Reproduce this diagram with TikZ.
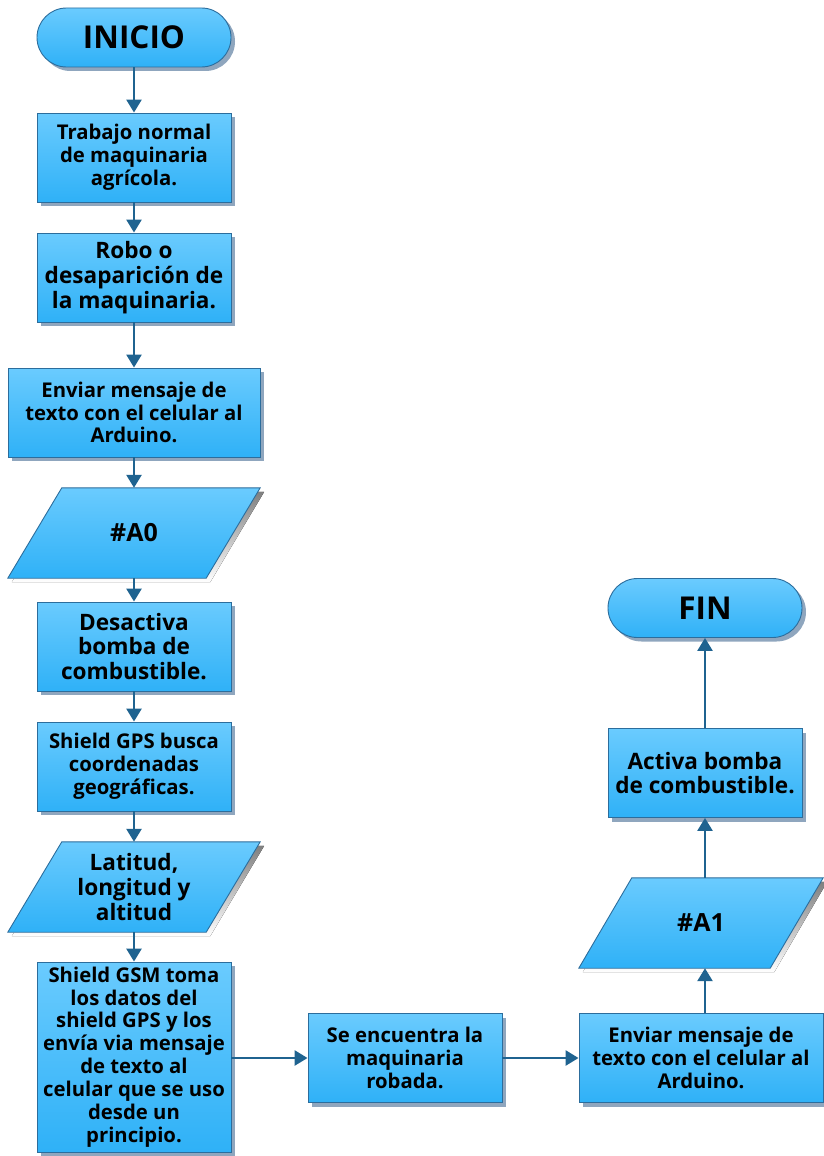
\documentclass[tikz,border=0pt]{standalone}
\usepackage{fontspec}
\setmainfont{Open Sans}
\usetikzlibrary{arrows.meta,shadows,positioning}

\definecolor{fillTop}{HTML}{6ACBFE}
\definecolor{fillBot}{HTML}{2FB1F7}
\definecolor{edge}{HTML}{2C6D9C}
\definecolor{flow}{HTML}{1F6390}
\definecolor{shade}{HTML}{8FA6BE}

\tikzset{
  blockbody/.style={top color=fillTop, bottom color=fillBot, draw=edge, line width=0.9pt},
  blockfill/.style={blockbody,
    drop shadow={shadow xshift=4pt, shadow yshift=-4pt, fill=shade, opacity=1}},
  procbox/.style={blockfill, rectangle, minimum width=194pt, minimum height=89pt,
    inner sep=0pt, align=center, font=\smalltxt},
  widebox/.style={procbox, minimum width=252pt},
  terminal/.style={blockfill, rectangle, rounded corners=29.5pt, minimum width=194pt,
    minimum height=59pt, inner sep=0pt, align=center, font=\termtxt},
  iolabel/.style={rectangle, minimum width=144pt, minimum height=90pt, inner sep=0pt,
    align=center},
  flowarrow/.style={draw=flow, line width=2.6pt, -{Triangle[width=15pt,length=13pt]}},
}
\newcommand{\smalltxt}{\fontsize{20.3}{22.9}\selectfont\bfseries}
\newcommand{\largetxt}{\fontsize{22.6}{24.8}\selectfont\bfseries}
\newcommand{\termtxt}{\fontsize{31.5}{34}\selectfont\bfseries}
\newcommand{\iotxt}{\fontsize{25}{28}\selectfont\bfseries}

% slanted input/output block around a named label node
\newcommand{\ioblock}[2]{%
  \fill[shade] ([shift={(4pt,-4pt)}]#1.north west) -- ([shift={(#2+4pt,-4pt)}]#1.north east)
     -- ([shift={(4pt,-4pt)}]#1.south east) -- ([shift={(-#2+4pt,-4pt)}]#1.south west) -- cycle;
  \path[blockbody] (#1.north west) -- ([xshift=#2]#1.north east)
     -- (#1.south east) -- ([xshift=-#2]#1.south west) -- cycle;
}

\begin{document}
\begin{tikzpicture}[x=1pt,y=-1pt]
\useasboundingbox (0,0) rectangle (823,1156);

% left column
\node[terminal] (inicio) at (134,37.5) {INICIO};
\node[procbox] (trabajo) at (134,157.5) {Trabajo normal\\de maquinaria\\agrícola.};
\node[procbox, font=\largetxt] (robo) at (134,277.5) {Robo o\\desaparición de\\la maquinaria.};
\node[widebox] (enviar) at (134,412.5) {Enviar mensaje de\\texto con el celular al\\Arduino.};
\node[iolabel] (a0) at (134,533) {};
\ioblock{a0}{54pt}
\node[font=\iotxt] at (a0) {\#A0};
\node[procbox, font=\largetxt] (desactiva) at (134,646.5) {Desactiva\\bomba de\\combustible.};
\node[procbox] (gps) at (134,766.5) {Shield GPS busca\\coordenadas\\geográficas.};
\node[iolabel] (lat) at (134,887) {};
\ioblock{lat}{54pt}
\node[font=\largetxt, align=center] at (lat) {Latitud,\\longitud y\\altitud};
\node[procbox, minimum height=190pt] (gsm) at (134,1057) {Shield GSM toma\\los datos del\\shield GPS y los\\envía via mensaje\\de texto al\\celular que se uso\\desde un\\principio.};

% bottom row and right column
\node[procbox] (encuentra) at (405,1058) {Se encuentra la\\maquinaria\\robada.};
\node[procbox, minimum width=244pt] (enviardos) at (701,1058) {Enviar mensaje de\\texto con el celular al\\Arduino.};
\node[iolabel, minimum width=138pt] (a1) at (701,923) {};
\ioblock{a1}{53pt}
\node[font=\iotxt] at (a1) {\#A1};
\node[procbox, font=\largetxt] (activa) at (705,773) {Activa bomba\\de combustible.};
\node[terminal] (fin) at (705,608) {FIN};

% connectors
\draw[flowarrow] (inicio) -- (trabajo);
\draw[flowarrow] (trabajo) -- (robo);
\draw[flowarrow] (robo) -- (enviar);
\draw[flowarrow] (enviar) -- (a0);
\draw[flowarrow] (a0) -- (desactiva);
\draw[flowarrow] (desactiva) -- (gps);
\draw[flowarrow] (gps) -- (lat);
\draw[flowarrow] (lat) -- (gsm);
\draw[flowarrow] (gsm.east |- encuentra) -- (encuentra);
\draw[flowarrow] (encuentra) -- (enviardos);
\draw[flowarrow] (enviardos.north -| activa) -- (a1.south -| activa);
\draw[flowarrow] (a1.north -| activa) -- (activa);
\draw[flowarrow] (activa) -- (fin);
\end{tikzpicture}
\end{document}
